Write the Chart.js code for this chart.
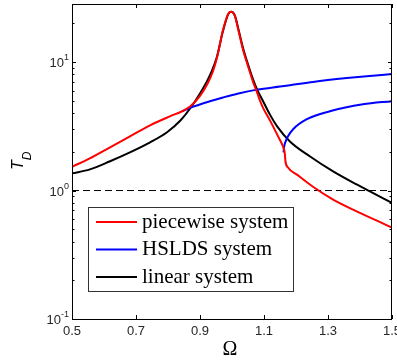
<!DOCTYPE html>
<html>
<head>
<meta charset="utf-8">
<script src="https://cdn.jsdelivr.net/npm/chart.js@4.4.1/dist/chart.umd.min.js"></script>
<style>
  html, body { margin: 0; padding: 0; background: #fff; }
  canvas { display: block; }
</style>
</head>
<body>
<canvas id="responseChart" width="397" height="362"></canvas>
<script>
// transmissibility T_D against frequency ratio Omega
const piecewiseOmega = [0.5, 0.556, 0.619, 0.681, 0.744, 0.806, 0.844, 0.869, 0.9, 0.925, 0.94, 0.953, 0.972, 0.988, 0.997, 1.009, 1.019, 1.034, 1.05, 1.066, 1.078, 1.0875, 1.097, 1.119, 1.144, 1.159, 1.165, 1.167, 1.175, 1.203, 1.253, 1.316, 1.391, 1.453, 1.5];
const piecewiseT     = [1.53, 1.78, 2.17, 2.64, 3.22, 3.78, 4.14, 4.5, 5.45, 6.9, 8.4, 10.8, 17.8, 23.7, 24.6, 22.9, 18.1, 12.6, 9.3, 6.98, 5.83, 5.0, 4.4, 3.5, 2.64, 2.21, 1.95, 1.69, 1.51, 1.33, 1.07, 0.85, 0.686, 0.583, 0.514];

const hsldsUpperOmega = [0.844, 0.869, 0.931, 0.972, 1.02, 1.078, 1.15, 1.181, 1.253, 1.359, 1.43, 1.5];
const hsldsUpperT     = [4.14, 4.4, 4.95, 5.3, 5.7, 6.1, 6.45, 6.6, 7.0, 7.5, 7.8, 8.06];

const hsldsLowerOmega = [1.161, 1.163, 1.166, 1.175, 1.191, 1.234, 1.306, 1.409, 1.5];
const hsldsLowerT     = [1.98, 2.2, 2.35, 2.64, 3.0, 3.59, 4.14, 4.69, 4.96];

const linearOmega = [0.5, 0.556, 0.619, 0.681, 0.744, 0.797, 0.838, 0.869, 0.9, 0.922, 0.935, 0.953, 0.972, 0.988, 0.997, 1.009, 1.019, 1.034, 1.05, 1.066, 1.08, 1.094, 1.119, 1.141, 1.181, 1.244, 1.316, 1.391, 1.431, 1.5];
const linearT     = [1.36, 1.46, 1.69, 1.98, 2.37, 2.84, 3.49, 4.35, 5.7, 7.1, 8.3, 11.0, 17.5, 23.5, 24.6, 23.0, 18.5, 13.0, 9.6, 7.3, 6.0, 5.14, 3.88, 3.16, 2.41, 1.84, 1.41, 1.11, 0.985, 0.8];

const unityOmega = [0.5, 1.5];
const unityT = [1, 1];

const seriesLabels = ['piecewise system', 'HSLDS system', 'linear system'];
const xTickValues = [0.5, 0.7, 0.9, 1.1, 1.3, 1.5];
const yTickValues = [0.1, 1, 10];
const yExponents = ['-1', '0', '1'];

const toPoints = (xs, ys) => xs.map((x, i) => ({ x: x, y: ys[i] }));

const curve = (label, xs, ys, color, order) => ({
  label: label,
  data: toPoints(xs, ys),
  borderColor: color,
  borderWidth: 2,
  pointRadius: 0,
  cubicInterpolationMode: 'monotone',
  fill: false,
  order: order
});

// ticks, frame, axis titles and the boxed legend
const framePlugin = {
  id: 'framePlugin',
  afterDraw(chart) {
    const ctx = chart.ctx;
    const a = chart.chartArea;
    const xs = chart.scales.x;
    const ys = chart.scales.y;
    ctx.save();
    ctx.strokeStyle = '#000';
    ctx.lineWidth = 1;
    ctx.strokeRect(a.left + 0.5, a.top + 0.5, a.right - a.left - 1, a.bottom - a.top);

    ctx.beginPath();
    xTickValues.forEach(v => {
      const px = Math.round(xs.getPixelForValue(v)) + 0.5;
      ctx.moveTo(px, a.bottom); ctx.lineTo(px, a.bottom - 4);
      ctx.moveTo(px, a.top); ctx.lineTo(px, a.top + 4);
    });
    for (let d = 0.1; d < 30; d *= 10) {
      for (let m = 1; m < 10; m++) {
        const v = d * m;
        if (v > ys.max) break;
        const py = Math.round(ys.getPixelForValue(v)) + 0.5;
        const len = m === 1 ? 4 : 2.5;
        ctx.moveTo(a.left, py); ctx.lineTo(a.left + len, py);
        ctx.moveTo(a.right, py); ctx.lineTo(a.right - len, py);
      }
    }
    ctx.stroke();

    ctx.fillStyle = '#262626';
    ctx.font = '13px "Liberation Sans", Arial, sans-serif';
    ctx.textAlign = 'center';
    ctx.textBaseline = 'middle';
    xTickValues.forEach(v => {
      ctx.fillText(v.toFixed(1), xs.getPixelForValue(v), a.bottom + 12);
    });

    yTickValues.forEach((v, i) => {
      const py = ys.getPixelForValue(v);
      ctx.textAlign = 'right';
      ctx.textBaseline = 'alphabetic';
      ctx.font = '9px "Liberation Sans", Arial, sans-serif';
      const ex = yExponents[i];
      ctx.fillText(ex, a.left - 3, py - 2);
      const ew = ctx.measureText(ex).width;
      ctx.font = '13px "Liberation Sans", Arial, sans-serif';
      ctx.fillText('10', a.left - 3 - ew, py + 5);
    });

    // axis titles
    ctx.fillStyle = '#000';
    ctx.font = '20px "Liberation Serif", "Times New Roman", serif';
    ctx.textAlign = 'center';
    ctx.textBaseline = 'middle';
    ctx.fillText('Ω', 230, 350);

    ctx.save();
    ctx.translate(23, 170);
    ctx.rotate(-Math.PI / 2);
    ctx.textAlign = 'left';
    ctx.textBaseline = 'alphabetic';
    ctx.font = 'italic 16px "Liberation Sans", Arial, sans-serif';
    ctx.fillText('T', 0, 0);
    const tw = ctx.measureText('T').width;
    ctx.font = 'italic 12px "Liberation Sans", Arial, sans-serif';
    ctx.fillText('D', tw, 8);
    ctx.restore();

    // legend box inside the plot
    const lx = a.left + 16, ly = a.top + 203, lw = 205, lh = 84;
    ctx.fillStyle = '#fff';
    ctx.fillRect(lx, ly, lw, lh);
    ctx.strokeStyle = '#333';
    ctx.strokeRect(lx + 0.5, ly + 0.5, lw, lh);
    ctx.font = '21px "Liberation Serif", "Times New Roman", serif';
    ctx.textAlign = 'left';
    ctx.textBaseline = 'middle';
    seriesLabels.forEach((label, i) => {
      const ry = ly + 15 + i * 27.5;
      ctx.strokeStyle = chart.data.datasets[i].borderColor;
      ctx.lineWidth = 2;
      ctx.beginPath();
      ctx.moveTo(lx + 8, ry); ctx.lineTo(lx + 49, ry);
      ctx.stroke();
      ctx.fillStyle = '#000';
      ctx.fillText(label, lx + 54, ry);
    });
    ctx.restore();
  }
};

const ctx = document.getElementById('responseChart').getContext('2d');
const responseChart = new Chart(ctx, {
  type: 'line',
  data: {
    datasets: [
      curve(seriesLabels[0], piecewiseOmega, piecewiseT, '#ff0000', 0),
      curve(seriesLabels[1], hsldsUpperOmega, hsldsUpperT, '#0000ff', 1),
      curve(seriesLabels[2], linearOmega, linearT, '#000000', 3),
      curve('', hsldsLowerOmega, hsldsLowerT, '#0000ff', 2),
      {
        label: '',
        data: toPoints(unityOmega, unityT),
        borderColor: '#000',
        borderWidth: 1,
        borderDash: [7, 4],
        pointRadius: 0,
        order: 4
      }
    ]
  },
  options: {
    responsive: false,
    animation: false,
    devicePixelRatio: 1,
    layout: { padding: { top: 4, right: 5, left: 0, bottom: 0 } },
    plugins: { legend: { display: false }, tooltip: { enabled: false } },
    scales: {
      x: {
        type: 'linear',
        min: 0.5,
        max: 1.5,
        grid: { display: false },
        border: { display: false },
        ticks: { display: false },
        afterFit: s => { s.height = 43; }
      },
      y: {
        type: 'logarithmic',
        min: 0.1,
        max: 28.3,
        grid: { display: false },
        border: { display: false },
        ticks: { display: false },
        afterFit: s => { s.width = 72; }
      }
    }
  },
  plugins: [framePlugin]
});
</script>
</body>
</html>
